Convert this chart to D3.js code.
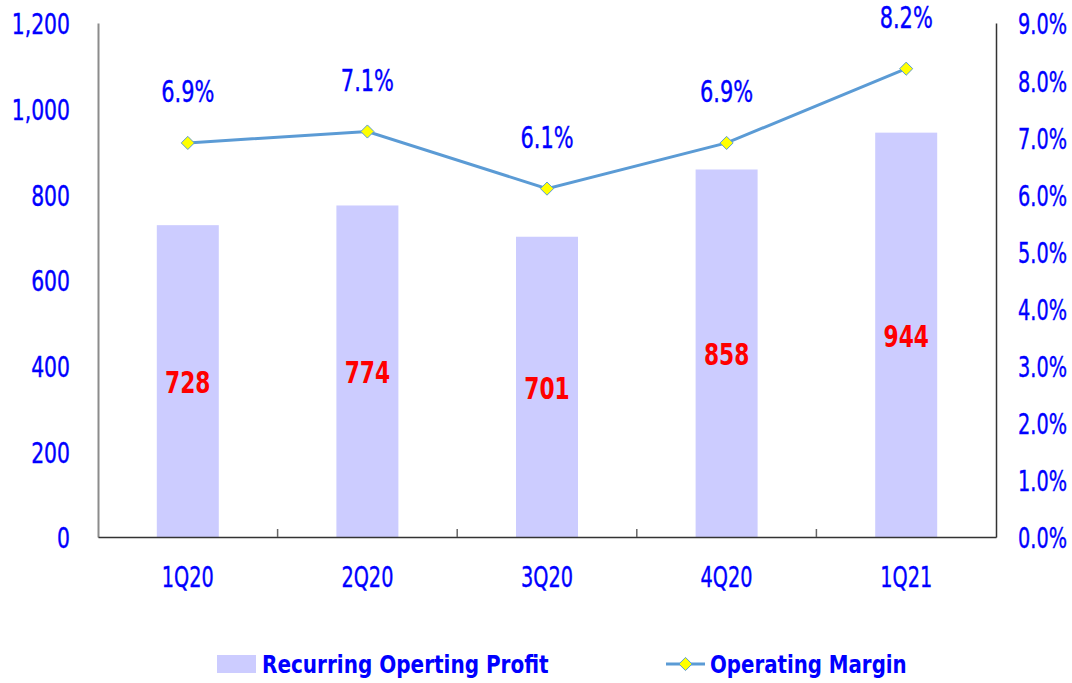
<!DOCTYPE html>
<html>
<head>
<meta charset="utf-8">
<script src="https://cdn.jsdelivr.net/npm/d3@7/dist/d3.min.js"></script>
<style>
  body { margin: 0; background: #fff; }
  svg text { font-family: "DejaVu Sans Condensed", "DejaVu Sans", sans-serif; font-stretch: condensed; }
</style>
</head>
<body>
<svg id="chart"></svg>
<script>
// chart data
var quarters = ["1Q20", "2Q20", "3Q20", "4Q20", "1Q21"];
var profit = [728, 774, 701, 858, 944];
var margin = [6.9, 7.1, 6.1, 6.9, 8.2];
var leftTicks = [0, 200, 400, 600, 800, 1000, 1200];
var rightTicks = [0, 1, 2, 3, 4, 5, 6, 7, 8, 9];

var W = 1072, H = 683;
var plot = { left: 98, right: 996, top: 23, bottom: 537 };
var blue = "#0000ff";
var squeeze = 0.75; // the original font is narrow, squash text horizontally

var svg = d3.select("#chart")
    .attr("width", W)
    .attr("height", H);

// helper: put a narrow text at (x, y)
function label(g, x, y, txt, opt) {
    var c = opt.color || blue;
    return g.append("text")
        .attr("transform", "translate(" + x + "," + y + ") scale(" + (opt.sx || squeeze) + ",1)")
        .attr("dy", "0.36em")
        .attr("text-anchor", opt.anchor || "middle")
        .style("font-size", opt.size + "px")
        .style("font-weight", opt.bold ? "bold" : "normal")
        .style("fill", c)
        .style("stroke", c)
        .style("stroke-width", opt.bold ? 0 : 0.4)
        .text(txt);
}

// scales
var x = d3.scaleBand()
    .domain(quarters)
    .range([plot.left, plot.right]);
var yL = d3.scaleLinear().domain([0, 1200]).range([plot.bottom, plot.top]);
var yR = d3.scaleLinear().domain([0, 9]).range([plot.bottom, plot.top]);
function cx(q) { return x(q) + x.bandwidth() / 2; }

var barW = 62;

// bars
svg.append("g")
    .selectAll("rect")
    .data(profit)
    .enter()
    .append("rect")
    .attr("x", function(d, i) { return cx(quarters[i]) - barW / 2; })
    .attr("y", function(d) { return yL(d); })
    .attr("width", barW)
    .attr("height", function(d) { return yL(0) - yL(d); })
    .style("fill", "#ccccff");

// bar value labels
var gBarLab = svg.append("g");
profit.forEach(function(d, i) {
    label(gBarLab, cx(quarters[i]), (yL(d) + yL(0)) / 2 + 1, d,
        { size: 31, bold: true, color: "#ff0000", sx: 0.78 });
});

// left axis
var axL = svg.append("g")
    .attr("transform", "translate(" + plot.left + ",0)")
    .call(d3.axisLeft(yL).tickValues(leftTicks).tickSize(0).tickFormat(""));
axL.select(".domain").attr("stroke", "#8c8c8c").attr("stroke-width", 2);
var gL = svg.append("g");
leftTicks.forEach(function(t) {
    label(gL, 70, yL(t) + 1, d3.format(",")(t), { size: 29, anchor: "end", sx: 0.78 });
});

// right axis
var axR = svg.append("g")
    .attr("transform", "translate(" + plot.right + ",0)")
    .call(d3.axisRight(yR).tickValues(rightTicks).tickSize(0).tickFormat(""));
axR.select(".domain").attr("stroke", "#333").attr("stroke-width", 1.5);
var gR = svg.append("g");
rightTicks.forEach(function(t) {
    label(gR, 1018, yR(t) + 1, t.toFixed(1) + "%", { size: 29, anchor: "start", sx: 0.74 });
});

// x axis: line, separator ticks, labels
var axX = svg.append("g")
    .attr("transform", "translate(0," + plot.bottom + ")")
    .call(d3.axisBottom(x).tickSize(0).tickFormat(""));
axX.select(".domain").attr("stroke", "#333").attr("stroke-width", 1.5);
axX.selectAll(".sep")
    .data(quarters.slice(1))
    .enter()
    .append("line")
    .attr("class", "sep")
    .attr("x1", function(d) { return x(d); })
    .attr("x2", function(d) { return x(d); })
    .attr("y1", 0)
    .attr("y2", -8)
    .attr("stroke", "#666")
    .attr("stroke-width", 1.5);
var gX = svg.append("g");
quarters.forEach(function(q) {
    label(gX, cx(q), 577, q, { size: 29, sx: 0.74 });
});

// margin line
var line = d3.line()
    .x(function(d, i) { return cx(quarters[i]); })
    .y(function(d) { return yR(d); });

svg.append("path")
    .datum(margin)
    .attr("d", line)
    .attr("fill", "none")
    .attr("stroke", "#5b9bd5")
    .attr("stroke-width", 3);

var diamond = d3.symbol().type(d3.symbolDiamond2).size(110);

svg.append("g")
    .selectAll("path")
    .data(margin)
    .enter()
    .append("path")
    .attr("d", diamond)
    .attr("transform", function(d, i) {
        return "translate(" + cx(quarters[i]) + "," + yR(d) + ")";
    })
    .style("fill", "#ffff00")
    .style("stroke", "#5b9bd5")
    .style("stroke-width", 1);

// margin labels
var gM = svg.append("g");
margin.forEach(function(d, i) {
    label(gM, cx(quarters[i]), yR(d) - 52, d.toFixed(1) + "%", { size: 31, sx: 0.75 });
});

// legend
var lg = svg.append("g").attr("transform", "translate(0,664)");
lg.append("rect")
    .attr("x", 217).attr("y", -9)
    .attr("width", 39).attr("height", 18)
    .style("fill", "#ccccff");
label(lg, 262, 0, "Recurring Operting Profit", { size: 25, bold: true, anchor: "start", sx: 0.89 });

lg.append("line")
    .attr("x1", 666).attr("x2", 705)
    .attr("y1", 0).attr("y2", 0)
    .attr("stroke", "#5b9bd5").attr("stroke-width", 3);
lg.append("path")
    .attr("d", diamond)
    .attr("transform", "translate(685.5,0)")
    .style("fill", "#ffff00")
    .style("stroke", "#5b9bd5");
label(lg, 710, 0, "Operating Margin", { size: 25, bold: true, anchor: "start", sx: 0.88 });
</script>
</body>
</html>
